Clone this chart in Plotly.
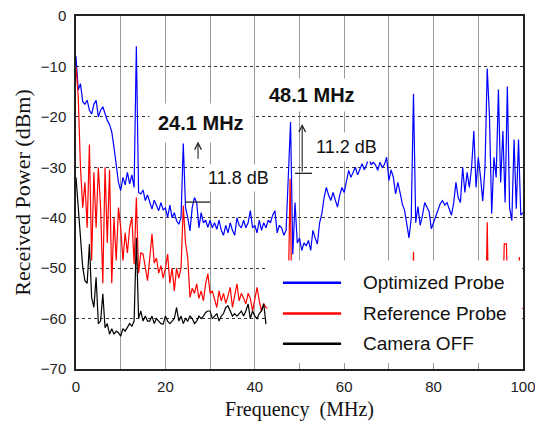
import plotly.graph_objects as go

# ---------------- data ----------------
STEP_MHZ = 0.5  # sampling interval of the spectra

optimized_dbm = [
    -8, -14.7, -13.4, -17, -17.5, -16.7, -18.7, -19.4, -17.5, -16.7,
    -20, -18.7, -18, -19.5, -20.7, -21.5, -23, -26, -30, -33,
    -34.6, -32, -33.5, -31, -33.3, -31.5, -34, -6, -35, -35.3,
    -34.5, -36.6, -35.5, -37, -38.3, -36.5, -37.5, -38.6, -37, -38.5,
    -38, -39.9, -37.5, -40, -39, -40.6, -41.3, -40, -25.3, -38,
    -40, -42.6, -38, -36, -37, -42, -39, -41, -40.5, -41.9,
    -40.5, -42, -41, -42.3, -40.5, -42.5, -43.5, -41.5, -43, -41,
    -42.5, -43.5, -40, -41.5, -42, -40.5, -42, -41, -38.6, -42,
    -41.5, -43, -40.5, -42.5, -41, -42, -40.5, -41, -39.5, -38.6,
    -43, -41.5, -42, -43.5, -42.5, -30, -21, -47.3, -37, -45,
    -44, -46.5, -45, -45.6, -44.5, -46.5, -42.5, -44, -45.2, -41,
    -39.2, -36, -34, -35.5, -36.6, -35, -36.5, -37.9, -35.5, -34,
    -35, -32.5, -30.6, -32, -31, -30, -31.5, -30.5, -29.3, -30.5,
    -29.5, -28, -29.5, -29, -29.5, -30.6, -29, -30, -29.5, -28,
    -32.6, -30.5, -32, -35.3, -33, -35, -37.3, -38.5, -41, -44,
    -40, -15.4, -41, -37.8, -41.5, -39.6, -37, -38, -38.8, -42.2,
    -41, -39.9, -38.5, -37.2, -36.6, -37.5, -37, -38.5, -39.5, -37,
    -33, -36, -37, -30, -35, -31, -34, -30, -22.8, -34,
    -28, -32, -36.7, -30, -10.4, -20, -39.2, -28, -32, -14.6,
    -33, -22.8, -37, -14.0, -38, -40.6, -24.5, -38.2, -24.5, -39.5,
    -39,
]

reference_dbm = [
    -10, -16, -30, -38, -33, -42, -25.5, -48.5, -31, -42,
    -30, -38, -53, -30, -45, -30.5, -53, -40, -48.5, -38,
    -42, -48.5, -43, -47, -42, -39.9, -49.2, -36, -51, -47,
    -47.2, -50, -52.5, -48, -43.2, -49, -48, -51, -49.5, -52,
    -50, -47.2, -53, -50, -54.5, -50, -52, -50, -37.6, -45,
    -48, -55.8, -54, -55, -53.1, -56, -54.5, -56.5, -53.1, -51.1,
    -55, -54.5, -56, -57.8, -54.5, -56.5, -55, -57, -55.5, -53.8,
    -57.8, -55, -53.1, -56.5, -55, -56, -57.1, -55, -56, -58.5,
    -56, -53.8, -56.5, -58.5, -57, -57.8,
]
# part of the reference spectrum above 43 MHz (mostly hidden behind the legend)
reference_tail_mhz = [43.0, 47.5, 47.9, 48.3, 75.2, 75.5, 75.8, 91.7, 92.0, 92.3,
                      95.5, 95.8, 96.3, 96.6, 98.9, 99.2, 99.5, 100.0]
reference_tail_dbm = [-58, -55, -32.3, -58, -58, -46.8, -58, -58, -40.9, -58,
                      -58, -45.2, -45.2, -58, -58, -47.8, -58, -58]

camera_off_dbm = [
    -32, -38.6, -45.2, -49.8, -52.5, -53, -45.2, -55.8, -57.8, -51.8,
    -61, -60.5, -55.1, -61.8, -61, -63.1, -62, -63.1, -62.5, -62.8,
    -63.5, -62, -62.5, -61.8, -61, -61.5, -60.5, -44, -60, -58.5,
    -60.5, -59.5, -60.5, -60.5, -59.5, -61, -60, -60.5, -61, -61.1,
    -59.5, -60.5, -61, -60.5, -60, -57.8, -60.5, -59.5, -61, -60,
    -60.5, -59.5, -60, -61, -60.5, -59.5, -60, -59.5, -58.8, -58.5,
    -58.5, -60, -59.5, -59, -60.5, -59.5, -59, -57.8, -57.5, -58.5,
    -59.5, -59, -59.5, -59, -58.5, -59.5, -58.5, -57.1, -60, -58.5,
    -59.5, -60, -59, -58.5, -57.1, -61.1,
]

series_names = ["Optimized Probe", "Reference Probe", "Camera OFF"]
series_colors = ["#0000ff", "#ff0000", "#000000"]

x_ticks = [0, 20, 40, 60, 80, 100]
y_ticks = [-70, -60, -50, -40, -30, -20, -10, 0]

# ---------------- figure ----------------
freq_opt = [i * STEP_MHZ for i in range(len(optimized_dbm))]
freq_ref = [i * STEP_MHZ for i in range(len(reference_dbm))] + reference_tail_mhz
ref_all = reference_dbm + reference_tail_dbm
freq_off = [i * STEP_MHZ for i in range(len(camera_off_dbm))]

fig = go.Figure()
fig.add_trace(go.Scatter(x=freq_opt, y=optimized_dbm, mode="lines", name=series_names[0],
                         line=dict(color=series_colors[0], width=1.2), showlegend=False))
fig.add_trace(go.Scatter(x=freq_ref, y=ref_all, mode="lines", name=series_names[1],
                         line=dict(color=series_colors[1], width=1.2), showlegend=False))
fig.add_trace(go.Scatter(x=freq_off, y=camera_off_dbm, mode="lines", name=series_names[2],
                         line=dict(color=series_colors[2], width=1.2), showlegend=False))

sans = "Liberation Sans, Arial, sans-serif"
serif = "Liberation Serif, Times New Roman, serif"

# the page body has an 8px margin, so the figure is sized to fit the 543x421 window
fig.update_layout(
    width=535, height=413,
    margin=dict(l=68, r=20, t=8, b=52),
    paper_bgcolor="white", plot_bgcolor="white",
    showlegend=False,
    xaxis=dict(
        range=[0, 100], tickvals=x_ticks, ticks="", showgrid=True,
        gridcolor="#9a9a9a", gridwidth=1,
        minor=dict(dtick=10, showgrid=True, gridcolor="#9a9a9a", gridwidth=1, ticks=""),
        showline=True, linecolor="#222", linewidth=1.5, mirror=True,
        zeroline=False, automargin=False,
        tickfont=dict(family=sans, size=15, color="#222"),
        ticklabelstandoff=3, ticklabeloverflow="allow",
        title=dict(text="Frequency\u00a0 (MHz)", font=dict(family=serif, size=20, color="#111"),
                   standoff=8),
    ),
    yaxis=dict(
        range=[-70, 0], tickvals=y_ticks, ticks="", showgrid=True,
        gridcolor="#333", gridwidth=1, griddash="dot",
        showline=True, linecolor="#222", linewidth=1.5, mirror=True,
        zeroline=False, automargin=False,
        tickfont=dict(family=sans, size=15, color="#222"),
        ticklabelstandoff=5, ticklabeloverflow="allow",
        title=dict(text="Received Power (dBm)", font=dict(family=serif, size=22, color="#111"),
                   standoff=4),
    ),
)

shapes = [
    # white legend panel covering the lower right of the plot
    dict(type="rect", xref="x", yref="y", x0=42.8, x1=99.8, y0=-68.8, y1=-48.5,
         fillcolor="white", line=dict(width=0), layer="above"),
    # base bars of the dB markers
    dict(type="line", xref="x", yref="y", x0=24.4, x1=30.0, y0=-36.9, y1=-36.9,
         line=dict(color="#222", width=1.3), layer="above"),
    dict(type="line", xref="x", yref="y", x0=49.0, x1=52.8, y0=-31.2, y1=-31.2,
         line=dict(color="#222", width=1.3), layer="above"),
]
legend_rows_y = [-52.9, -59.0, -65.0]
for yy, col in zip(legend_rows_y, series_colors):
    shapes.append(dict(type="line", xref="x", yref="y", x0=46.3, x1=59.3, y0=yy, y1=yy,
                       line=dict(color=col, width=2.5), layer="above"))
fig.update_layout(shapes=shapes)

annotations = [
    dict(x=28.0, y=-21.3, text="<b>24.1 MHz</b>", showarrow=False,
         font=dict(family=sans, size=20, color="#111"), bgcolor="white", borderpad=8),
    dict(x=52.8, y=-15.7, text="<b>48.1 MHz</b>", showarrow=False,
         font=dict(family=sans, size=20, color="#111"), bgcolor="white", borderpad=5),
    dict(x=36.4, y=-32.2, text="11.8 dB", showarrow=False,
         font=dict(family=sans, size=18, color="#111"), bgcolor="white", borderpad=3),
    dict(x=60.5, y=-26.0, text="11.2 dB", showarrow=False,
         font=dict(family=sans, size=18, color="#111"), bgcolor="white", borderpad=4),
    # arrows
    dict(x=27.3, y=-24.9, ax=27.3, ay=-28.6, axref="x", ayref="y", text="",
         showarrow=True, arrowhead=5, arrowsize=1.2, arrowwidth=1.1, arrowcolor="#222"),
    dict(x=50.6, y=-21.4, ax=50.6, ay=-31.2, axref="x", ayref="y", text="",
         showarrow=True, arrowhead=5, arrowsize=1.2, arrowwidth=1.1, arrowcolor="#222"),
]
for yy, name in zip(legend_rows_y, series_names):
    annotations.append(dict(x=63.8, y=yy, text=name, showarrow=False, xanchor="left",
                            font=dict(family=sans, size=19, color="#111")))
for a in annotations:
    a.setdefault("xref", "x")
    a.setdefault("yref", "y")
fig.update_layout(annotations=annotations)

fig.write_html("out.html")
